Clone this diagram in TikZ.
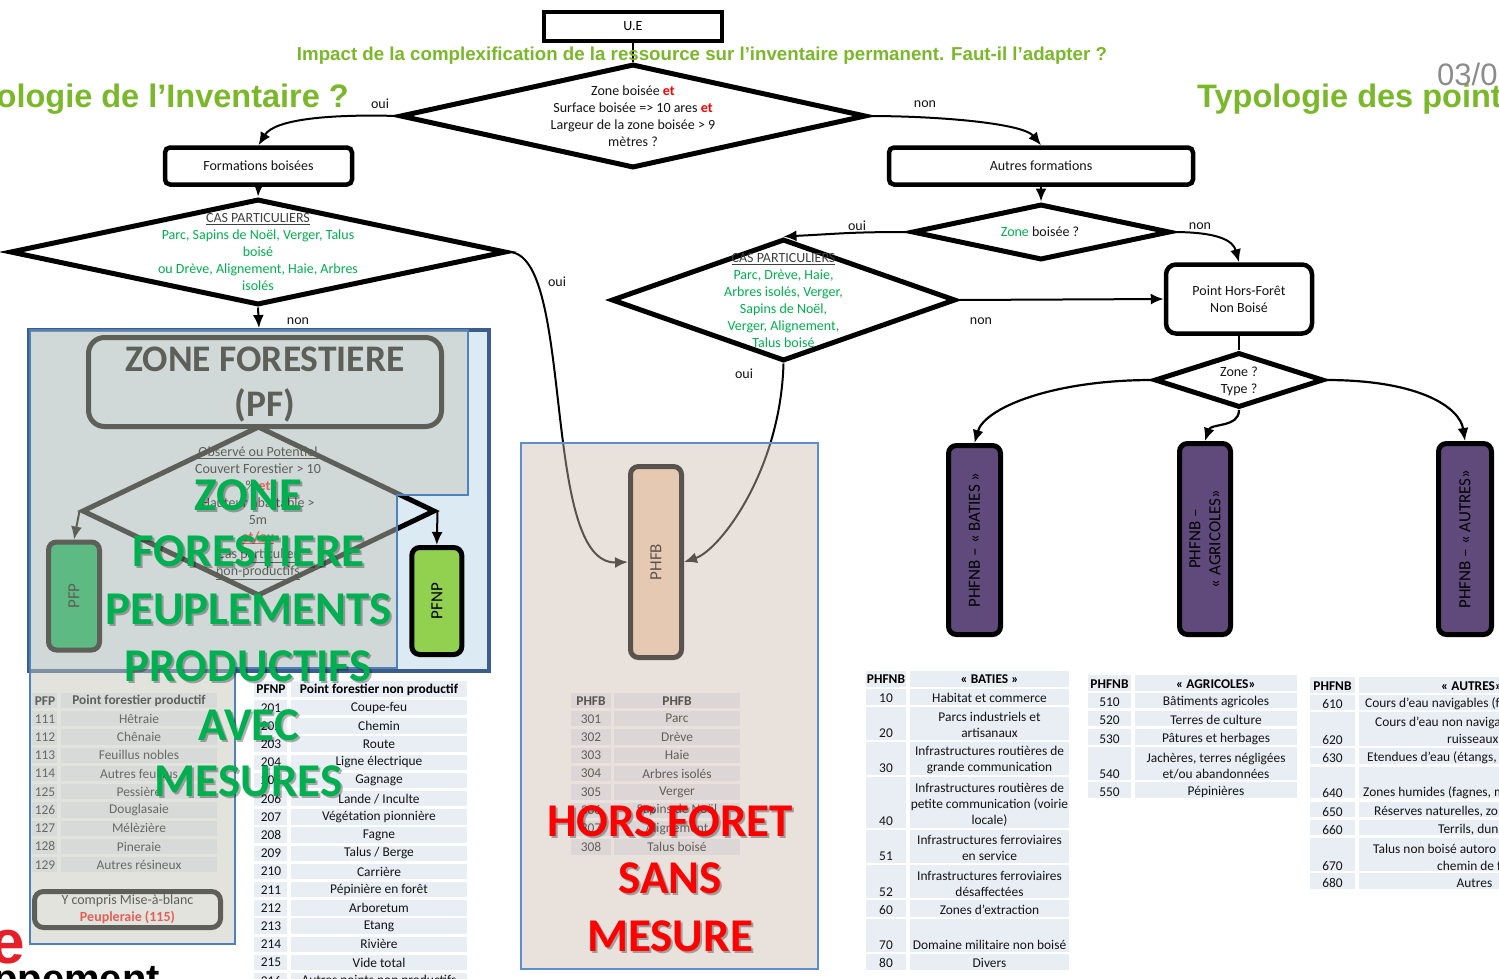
\documentclass[tikz,border=0pt]{standalone}
\usepackage{fontspec}
\setmainfont{Carlito}
\newfontfamily\arialf{Liberation Sans}
\usetikzlibrary{shapes.geometric,arrows.meta}
\definecolor{gtitle}{RGB}{122,184,42}
\definecolor{gtext}{RGB}{0,176,80}
\definecolor{cellbg}{RGB}{233,237,244}
\definecolor{framebg}{RGB}{220,235,243}
\definecolor{frameline}{RGB}{60,92,140}
\definecolor{thinblue}{RGB}{79,129,189}
\definecolor{thinblueB}{RGB}{91,143,208}
\definecolor{purp}{RGB}{96,74,123}
\definecolor{lgreen}{RGB}{146,208,80}
\definecolor{pfpgreen}{RGB}{0,176,80}
\definecolor{peach}{RGB}{251,212,180}
\definecolor{ovlA}{RGB}{196,198,186}
\definecolor{ovlB}{RGB}{205,189,177}
\definecolor{numgray}{RGB}{140,140,140}
\definecolor{redt}{RGB}{255,0,0}
\definecolor{redbig}{RGB}{232,30,40}
\definecolor{txtblack}{RGB}{20,20,20}
\definecolor{casgray}{RGB}{64,64,64}
\tikzset{
 dia/.style={diamond, draw=black, line width=5pt, inner sep=0pt},
 fbox/.style={rectangle, draw=black, line width=4.5pt, rounded corners=5pt, inner sep=0pt, fill=white, font=\fontsize{14}{17}\selectfont, text=txtblack, align=center},
 conn/.style={line width=2pt, draw=black, -{Latex[length=13pt,width=11pt]}},
 dtxt/.style={font=\fontsize{14}{17}\selectfont, align=center, inner sep=0pt, text=txtblack},
 lbl/.style={font=\fontsize{14}{17}\selectfont, inner sep=0pt, text=txtblack},
 tb/.style={font=\fontsize{13.4}{16}\selectfont, inner sep=0pt, align=center, text=txtblack},
 tbw/.style={tb, anchor=west},
 tbh/.style={font=\bfseries\fontsize{13.4}{16}\selectfont, inner sep=0pt, align=center, text=black},
 vbox/.style={rectangle, rounded corners=8pt, line width=5pt, draw=black, inner sep=0pt},
 vtxt/.style={font=\fontsize{17}{20}\selectfont, rotate=90, inner sep=0pt, align=center, text=black},
 big/.style={font=\bfseries\fontsize{47}{50}\selectfont, inner sep=0pt, anchor=base},
 bigshadow/.style={big, text=black, opacity=0.3},
 title/.style={font=\arialf\bfseries\fontsize{32.5}{37}\selectfont, text=gtitle, inner sep=0pt},
}
\newcommand\mycell[4]{\fill[cellbg] (#1,#3) rectangle (#2,#4);}
\newcommand\batrow[6]{%
 \fill[cellbg] (866,#1) rectangle (906,#2);
 \fill[cellbg] (910,#1) rectangle (1069,#2);
 \node[tb] (bn#5) at (886,#3) {#5};
 \node[tb] (bt#5) at (989.5,#4) {#6};}
\newcommand\agrrow[6]{%
 \fill[cellbg] (1088,#1) rectangle (1131,#2);
 \fill[cellbg] (1135,#1) rectangle (1297,#2);
 \node[tb] (an#5) at (1109.5,#3) {#5};
 \node[tb] (at#5) at (1216,#4) {#6};}
\newcommand\autrow[4]{%
 \fill[cellbg] (1310,#1) rectangle (1355,#2);
 \fill[cellbg] (1359,#1) rectangle (1510,#2);
 \node[tb] (un#4) at (1332.5,#3) {#4};}
\begin{document}
\begin{tikzpicture}[x=1pt,y=-1pt]
\path[use as bounding box] (0,0) rectangle (1499,978);
\clip (0,0) rectangle (1499,978);
\fill[white] (0,0) rectangle (1499,978);

% ---------- titles ----------
\node[title, anchor=base east] (lefttitle) at (349,107) {dologie de l’Inventaire ?};
\node[title, anchor=base west] (righttitle) at (1197,107) {Typologie des points};
\node[font=\arialf\fontsize{31}{36}\selectfont, text=numgray, anchor=base west, inner sep=0pt] (pagenum) at (1437,85) {03/0};
\node[font=\arialf\bfseries\fontsize{62}{70}\selectfont, text=redbig, anchor=base east, inner sep=0pt] (rede) at (25,963) {e};
\node[font=\arialf\bfseries\fontsize{40}{46}\selectfont, text=black, anchor=base east, inner sep=0pt] (blackword) at (160,992) {ppement};

% ---------- top flow ----------
\node[rectangle, draw=black, line width=4.5pt, minimum width=178pt, minimum height=29pt, inner sep=0pt, fill=white, font=\fontsize{14}{17}\selectfont] (UE) at (633,26.5) {U.E};
\node[dia, minimum width=466pt, minimum height=104pt] (dTop) at (633,116) {};
\node[dtxt] (dTopt) at (633,116) {Zone boisée \textcolor{redt}{\textbf{et}}\\Surface boisée => 10 ares \textcolor{redt}{\textbf{et}}\\Largeur de la zone boisée > 9\\mètres ?};
\draw[line width=2pt] (UE.south) -- (dTop.north);
\node[font=\arialf\bfseries, text=gtitle, inner sep=0pt] (headline) at (702,56) {\resizebox{810pt}{!}{Impact de la complexification de la ressource sur l’inventaire permanent. Faut-il l’adapter ?}};

\node[fbox, minimum width=187pt, minimum height=37pt] (FB) at (258.5,166) {Formations boisées};
\node[fbox, minimum width=304pt, minimum height=37pt] (AF) at (1041,166) {Autres formations};
\draw[conn] (dTop.west) .. controls +(-68,-2) and +(16,-26) .. (FB.north);
\draw[conn] (dTop.east) .. controls +(70,0) and +(-18,-22) .. (AF.north);
\node[lbl] (oui1) at (380,104) {oui};
\node[lbl] (non1) at (925,104) {non};

% left CAS diamond
\node[dia, minimum width=496pt, minimum height=106pt] (dLeft) at (258,252) {};
\node[dtxt] (dLeftt) at (258,252.5) {\textcolor{casgray}{\underline{CAS PARTICULIERS}}\\\textcolor{gtext}{Parc, Sapins de Noël, Verger, Talus}\\\textcolor{gtext}{boisé}\\\textcolor{gtext}{ou Drève, Alignement, Haie, Arbres}\\\textcolor{gtext}{isolés}};
\draw[conn] (FB.south) -- (dLeft.north);
\node[lbl] (oui2) at (557,282) {oui};
\node[lbl] (non2) at (298,321) {non};

% right part
\node[dia, minimum width=258pt, minimum height=56pt] (dZB) at (1041,232) {};
\node[dtxt] (dZBt) at (1040,232) {\textcolor{gtext}{Zone} boisée ?};
\draw[conn] (AF.south) -- (dZB.north);
\node[dia, minimum width=344pt, minimum height=122pt] (dMid) at (783.5,300) {};
\node[dtxt] (dMidt) at (783.5,300.5) {\textcolor{casgray}{\underline{CAS PARTICULIERS}}\\\textcolor{gtext}{Parc, Drève, Haie,}\\\textcolor{gtext}{Arbres isolés, Verger,}\\\textcolor{gtext}{Sapins de Noël,}\\\textcolor{gtext}{Verger, Alignement,}\\\textcolor{gtext}{Talus boisé}};
\draw[conn] (dZB.west) .. controls +(-60,0) and +(60,-3) .. (dMid.north);
\node[lbl] (oui3) at (857,226) {oui};
\node[lbl] (non3) at (1200,226) {non};
\node[fbox, rounded corners=10pt, minimum width=146pt, minimum height=69pt] (PHF) at (1239,299) {Point Hors-Forêt\\Non Boisé};
\draw[conn] (dZB.east) .. controls +(45,0) and +(-6,-22) .. (PHF.north);
\draw[conn] (dMid.east) -- (PHF.west);
\node[lbl] (non4) at (981,321) {non};
\node[lbl] (oui4) at (744,374) {oui};
\node[dia, minimum width=169pt, minimum height=55pt] (dZT) at (1239,380) {};
\node[dtxt] (dZTt) at (1239,381) {Zone ?\\Type ?};
\draw[line width=2pt] (PHF.south) -- (dZT.north);

\node[vbox, fill=purp, minimum width=52pt, minimum height=189pt] (BAT) at (974.5,540) {};
\node[vtxt] (BATt) at (BAT.center) {PHFNB – « BATIES »};
\node[vbox, fill=purp, minimum width=51pt, minimum height=191pt] (AGR) at (1205,539) {};
\node[vtxt] (AGRt) at (AGR.center) {PHFNB –\\« AGRICOLES»};
\node[vbox, fill=purp, minimum width=53pt, minimum height=191pt] (AUT) at (1465,539) {};
\node[vtxt] (AUTt) at (AUT.center) {PHFNB – « AUTRES»};
\draw[conn, line width=2.2pt] (dZT.west) .. controls +(-100,0) and +(10,-35) .. (BAT.north);
\draw[conn, line width=2.2pt] (dZT.east) .. controls +(95,0) and +(-5,-33) .. (AUT.north);
\draw[conn, line width=2.2pt] (dZT.south) .. controls +(0,18) and +(6,-18) .. (AGR.north);

% ---------- left forest frame ----------
\node[draw=frameline, line width=4pt, fill=framebg, minimum width=460pt, minimum height=341pt, inner sep=0pt] (pfframe) at (259,500.5) {};
\draw[conn] (dLeft.south) -- (pfframe.north);
\node[vbox, rounded corners=16pt, minimum width=353pt, minimum height=89pt, font=\bfseries\fontsize{37.5}{45}\selectfont, align=center, text=black] (ZF) at (265,382) {};
\node[font=\bfseries\fontsize{37.5}{45}\selectfont, align=center, text=black, inner sep=0pt] (ZFt) at (265,385) {ZONE FORESTIERE\\(PF)};
\node[dia, minimum width=353pt, minimum height=170pt] (dG) at (258.5,511) {};
\node[dtxt, text=black] (dGt) at (258,513) {\underline{Observé ou Potentiel}\\Couvert Forestier > 10\\\% \textcolor{redt}{\textbf{et}}\\Hauteur abattable >\\5m\\\textcolor{redt}{\underline{\textbf{et/ou}}}\\\underline{Cas particulier}\\\underline{non-productifs}};
\node[vbox, fill=pfpgreen, minimum width=51pt, minimum height=108pt] (PFP) at (74,596) {};
\node[vtxt] (PFPt) at (PFP.center) {PFP};
\node[vbox, fill=lgreen, minimum width=50pt, minimum height=107pt] (PFNP) at (436.8,601) {};
\node[vtxt] (PFNPt) at (PFNP.center) {PFNP};
\draw[conn] (dG.west) -- (PFP.north);
\draw[conn] (dG.east) -- (PFNP.north);

% PFP table
\mycell{32}{57}{693}{708}\mycell{61}{217}{693}{708}
\node[tbh] (pfph1) at (45,701) {PFP};
\node[tbh] (pfph2) at (139,701) {Point forestier productif};
\foreach \nm/\tx [count=\k from 0] in {111/Hêtraie,112/Chênaie,113/Feuillus nobles,114/Autres feuillus,125/Pessière,126/Douglasaie,127/Mélèzière,128/Pineraie,129/Autres résineux}{
 \pgfmathsetmacro\yy{718.7+\k*18.25}
 \fill[cellbg] (32,\yy-7.7) rectangle (57,\yy+7.7);
 \fill[cellbg] (61,\yy-7.7) rectangle (217,\yy+7.7);
 \node[tb] (pfpn\k) at (45,\yy) {\nm};
 \node[tb] (pfpt\k) at (139,\yy) {\tx};
}
\node[vbox, rounded corners=9pt, minimum width=186pt, minimum height=36pt, font=\fontsize{14}{17}\selectfont, align=center, text=black] (ycomp) at (127.5,909.5) {Y compris Mise-à-blanc\\\textcolor{redt}{\textbf{Peupleraie (115)}}};

% overlay A
\draw[thinblue, line width=1.5pt, fill=ovlA, fill opacity=0.484] (30,330) -- (468,330) -- (468,495) -- (397,495) -- (397,668) -- (235,668) -- (235,944) -- (30,944) -- cycle;

% PFNP table
\mycell{254}{287}{681}{697}\mycell{291}{467}{681}{697}
\node[tbh] (pfnph1) at (271,689.5) {PFNP};
\node[tbh] (pfnph2) at (379,689.5) {Point forestier non productif};
\foreach \nm/\tx [count=\k from 0] in {201/Coupe-feu,202/Chemin,203/Route,204/Ligne électrique,205/Gagnage,206/{Lande / Inculte},207/Végétation pionnière,208/Fagne,209/{Talus / Berge},210/Carrière,211/Pépinière en forêt,212/Arboretum,213/Etang,214/Rivière,215/Vide total,216/Autres points non productifs}{
 \pgfmathsetmacro\yy{707.7+\k*18.2}
 \fill[cellbg] (254,\yy-7.7) rectangle (287,\yy+7.7);
 \fill[cellbg] (291,\yy-7.7) rectangle (467,\yy+7.7);
 \node[tb] (pfnpn\k) at (271,\yy) {\nm};
 \node[tb] (pfnpt\k) at (379,\yy) {\tx};
}

% ---------- PHFB frame ----------
\fill[white] (520,442) rectangle (819,970);
\node[vbox, fill=peach, minimum width=51pt, minimum height=191pt] (PHFB) at (656,562) {};
\node[vtxt] (PHFBt) at (PHFB.center) {PHFB};
\draw[conn] (dLeft.east) .. controls +(67,0) and +(-88,3) .. (PHFB.west);
\draw[conn] (dMid.south) .. controls +(-3,107) and +(36,-12) .. (PHFB.east);
\mycell{571}{611}{693}{708}\mycell{614}{740}{693}{708}
\node[tbh] (phfbh1) at (591,701) {PHFB};
\node[tbh] (phfbh2) at (677,701) {PHFB};
\foreach \nm/\tx [count=\k from 0] in {301/Parc,302/Drève,303/Haie,304/Arbres isolés,305/Verger,306/Sapins de Noël,307/Alignement,308/Talus boisé}{
 \pgfmathsetmacro\yy{718.7+\k*18.3}
 \fill[cellbg] (571,\yy-7.7) rectangle (611,\yy+7.7);
 \fill[cellbg] (614,\yy-7.7) rectangle (740,\yy+7.7);
 \node[tb] (phfbn\k) at (591,\yy) {\nm};
 \node[tb] (phfbt\k) at (677,\yy) {\tx};
}
\node[draw=thinblueB, line width=2pt, fill=ovlB, fill opacity=0.44, minimum width=297pt, minimum height=526pt, inner sep=0pt] (phfbframe) at (669.5,706) {};

% ---------- BATIES table ----------
\mycell{866}{906}{671}{687}\mycell{910}{1069}{671}{687}
\node[tbh] (bh1) at (886,679) {PHFNB};
\node[tbh] (bh2) at (989.5,679) {« BATIES »};
\batrow{689}{705}{698}{698}{10}{Habitat et commerce}
\batrow{707}{740}{733}{725}{20}{Parcs industriels et\\artisanaux}
\batrow{742}{775}{768}{760}{30}{Infrastructures routières de\\grande communication}
\batrow{777}{828}{821}{805}{40}{Infrastructures routières de\\petite communication (voirie\\locale)}
\batrow{830}{863}{856}{848}{51}{Infrastructures ferroviaires\\en service}
\batrow{865}{898}{892}{883.5}{52}{Infrastructures ferroviaires\\désaffectées}
\batrow{900}{917}{910}{910}{60}{Zones d'extraction}
\batrow{919}{952}{945}{945}{70}{Domaine militaire non boisé}
\batrow{954}{970}{963}{963}{80}{Divers}

% ---------- AGRICOLES table ----------
\mycell{1088}{1131}{675}{691}\mycell{1135}{1297}{675}{691}
\node[tbh] (ah1) at (1109.5,684) {PHFNB};
\node[tbh] (ah2) at (1216,684) {« AGRICOLES»};
\agrrow{693}{708}{702}{702}{510}{Bâtiments agricoles}
\agrrow{711}{726}{720}{720}{520}{Terres de culture}
\agrrow{729}{745}{739}{739}{530}{Pâtures et herbages}
\agrrow{747}{780}{774}{766}{540}{Jachères, terres négligées\\et/ou abandonnées}
\agrrow{782}{798}{792}{792}{550}{Pépinières}

% ---------- AUTRES table ----------
\mycell{1310}{1355}{677}{693}\mycell{1359}{1510}{677}{693}
\node[tbh] (uh1) at (1332.5,686) {PHFNB};
\node[tbh, anchor=west] (uh2) at (1441,686) {« AUTRES»};
\autrow{695}{710}{704}{610}
\node[tbw] (ut610) at (1365,704) {Cours d'eau navigables (f};
\autrow{712}{746}{740}{620}
\node[tbw] (ut620a) at (1375,723) {Cours d'eau non naviga};
\node[tbw] (ut620b) at (1447,740) {ruisseaux)};
\autrow{748}{764}{758}{630}
\node[tbw] (ut630) at (1367,758) {Etendues d'eau (étangs,};
\autrow{767}{798}{793}{640}
\node[tbw] (ut640) at (1363,793) {Zones humides (fagnes, m};
\autrow{802}{817}{811.7}{650}
\node[tbw] (ut650) at (1374,811.7) {Réserves naturelles, zo};
\autrow{820}{835}{830}{660}
\node[tbw] (ut660) at (1438,830) {Terrils, dun};
\autrow{838}{871}{866}{670}
\node[tbw] (ut670a) at (1373,849) {Talus non boisé autoro};
\node[tbw] (ut670b) at (1437,866) {chemin de f};
\autrow{873}{889}{883}{680}
\node[tb] (ut680) at (1474.5,883) {Autres};

% ---------- big overlay words ----------
\foreach \w/\yb [count=\k] in {ZONE/510,FORESTIERE/566.7,PEUPLEMENTS/624,PRODUCTIFS/681.7,AVEC/740,MESURES/796.7}{
 \node[bigshadow] (gs\k) at (250.5,\yb+2) {\w};
 \node[big, text=gtext] (gw\k) at (248.5,\yb) {\w};
}
\foreach \w/\yb [count=\k] in {HORS FORET/836.7,SANS/893.3,MESURE/951.7}{
 \node[bigshadow] (rs\k) at (672,\yb+2) {\w};
 \node[big, text=redt] (rw\k) at (670,\yb) {\w};
}
\end{tikzpicture}
\end{document}
